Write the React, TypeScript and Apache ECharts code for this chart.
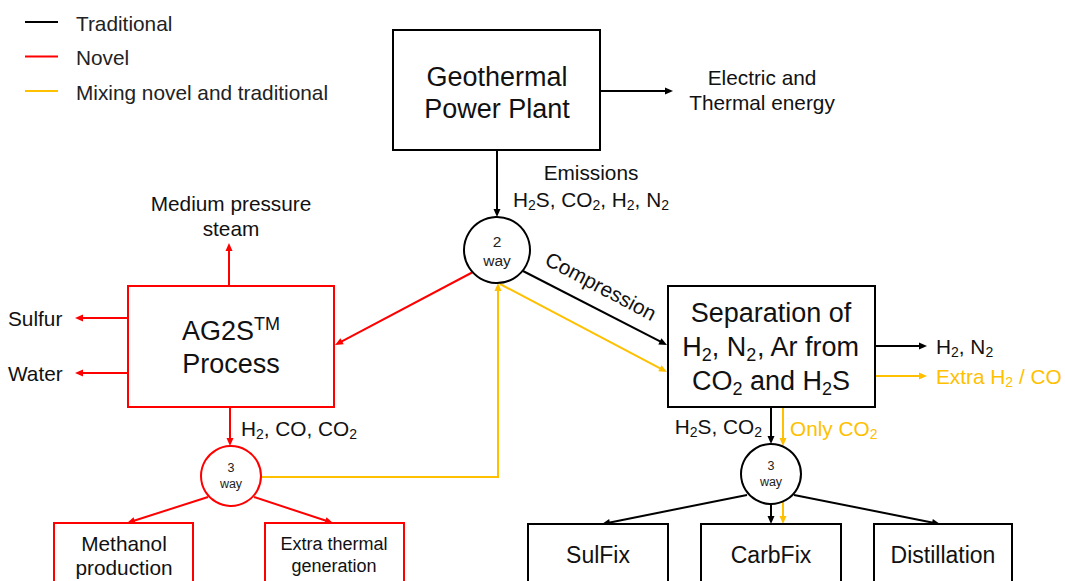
import React, { useEffect, useRef } from "react";
import * as echarts from "echarts";

const FONT = "'Liberation Sans', Arial, Helvetica, sans-serif";
const BLACK = "#000000";
const RED = "#FF0000";
const GOLD = "#FFC000";

// ---------- content (texts) ----------
const legendLabels = ["Traditional", "Novel", "Mixing novel and traditional"];
const legendColors = [BLACK, RED, GOLD];

const plantLines = ["Geothermal", "Power Plant"];
const ag2sLines = ["AG2S^{TM}", "Process"];
const separationLines = ["Separation of", "H_2, N_2, Ar from", "CO_2 and H_2S"];
const methanolLines = ["Methanol", "production"];
const thermalLines = ["Extra thermal", "generation"];
const sinkNames = ["SulFix", "CarbFix", "Distillation"];
const energyLines = ["Electric and", "Thermal energy"];
const emissionLines = ["Emissions", "H_2S, CO_2, H_2, N_2"];
const steamLines = ["Medium pressure", "steam"];
const ag2sOutputs = ["Sulfur", "Water"];
const ag2sGas = "H_2, CO, CO_2";
const sepOutputs = ["H_2, N_2", "Extra H_2 / CO"];
const sepDown = ["H_2S, CO_2", "Only CO_2"];
const compressionLabel = "Compression";
const junctionLabels = [["2", "way"], ["3", "way"], ["3", "way"]];

// ---------- layout ----------
type Box = { x: number; y: number; w: number; h: number; c: string };
const plantBox: Box = { x: 393, y: 30, w: 207, h: 120, c: BLACK };
const ag2sBox: Box = { x: 128, y: 286, w: 206, h: 121, c: RED };
const sepBox: Box = { x: 668, y: 286, w: 207, h: 121, c: BLACK };
const methanolBox: Box = { x: 54, y: 523, w: 139, h: 90, c: RED };
const thermalBox: Box = { x: 265, y: 523, w: 139, h: 90, c: RED };
const sinkBoxes: Box[] = [
  { x: 528, y: 524, w: 140, h: 90, c: BLACK },
  { x: 701, y: 524, w: 140, h: 90, c: BLACK },
  { x: 874, y: 524, w: 138, h: 90, c: BLACK },
];
const junctions = [
  { cx: 497, cy: 250, r: 33, c: BLACK, fs: 15.5, ty: [241, 260] },
  { cx: 231, cy: 476, r: 30, c: RED, fs: 12.5, ty: [468, 484] },
  { cx: 771, cy: 474, r: 30, c: BLACK, fs: 12.5, ty: [466, 482] },
];
// arrows: [color, points...]
const arrows: [string, number[][]][] = [
  [BLACK, [[600, 91], [673, 91]]],
  [BLACK, [[497, 150], [497, 217]]],
  [BLACK, [[523, 271], [667, 345]]],
  [RED, [[473, 272], [335, 345]]],
  [RED, [[229, 286], [229, 243]]],
  [RED, [[128, 318], [75, 318]]],
  [RED, [[128, 373], [75, 373]]],
  [RED, [[230, 407], [230, 446]]],
  [RED, [[208, 497], [127, 523]]],
  [RED, [[254, 497], [333, 523]]],
  [GOLD, [[261, 477], [498, 477], [498, 283]]],
  [GOLD, [[500, 284], [667, 372]]],
  [BLACK, [[875, 346], [927, 346]]],
  [GOLD, [[875, 376], [927, 376]]],
  [BLACK, [[771, 407], [771, 444]]],
  [GOLD, [[783, 407], [783, 446]]],
  [BLACK, [[747, 495], [602, 524]]],
  [BLACK, [[771, 504], [771, 524]]],
  [GOLD, [[783, 502], [783, 524]]],
  [BLACK, [[794, 495], [940, 524]]],
];

function richText(text: string, size: number, color: string) {
  let out = "";
  let buf = "";
  const flush = () => {
    if (buf) {
      out += `{n|${buf}}`;
      buf = "";
    }
  };
  for (let i = 0; i < text.length; i++) {
    const ch = text[i];
    if (ch === "_") {
      flush();
      out += `{s|${text[i + 1]}}`;
      i++;
    } else if (ch === "^") {
      flush();
      const end = text.indexOf("}", i);
      out += `{p|${text.slice(i + 2, end)}}`;
      i = end;
    } else buf += ch;
  }
  flush();
  const lh = Math.round(size * 1.3);
  const small = Math.round(size * 0.66);
  return {
    text: out,
    rich: {
      n: { fontSize: size, fontFamily: FONT, fill: color, lineHeight: lh },
      s: { fontSize: small, fontFamily: FONT, fill: color, lineHeight: lh, padding: [Math.round(size * 0.55), 0, 0, 0] },
      p: { fontSize: small, fontFamily: FONT, fill: color, lineHeight: lh, padding: [0, 0, Math.round(size * 0.55), 0] },
    },
  };
}

function label(t: string, x: number, y: number, size: number, color: string, align = "center", rotation = 0) {
  const r = richText(t, size, color);
  return {
    type: "text",
    x,
    y,
    rotation,
    style: { text: r.text, rich: r.rich, align, verticalAlign: "middle", fill: color, fontSize: size, fontFamily: FONT },
    silent: true,
  };
}

function arrowEls(color: string, pts: number[][]) {
  const n = pts.length;
  const [x1, y1] = pts[n - 2];
  const [x2, y2] = pts[n - 1];
  const dx = x2 - x1, dy = y2 - y1;
  const L = Math.hypot(dx, dy);
  const ux = dx / L, uy = dy / L;
  const hl = 8, hw = 3.5;
  const linePts = pts.slice(0, n - 1).concat([[x2 - ux * hl * 0.7, y2 - uy * hl * 0.7]]);
  return [
    { type: "polyline", shape: { points: linePts }, style: { stroke: color, lineWidth: 2, fill: null } },
    {
      type: "polygon",
      shape: {
        points: [
          [x2, y2],
          [x2 - ux * hl - uy * hw, y2 - uy * hl + ux * hw],
          [x2 - ux * hl + uy * hw, y2 - uy * hl - ux * hw],
        ],
      },
      style: { fill: color, stroke: null },
    },
  ];
}

function boxEl(b: Box) {
  return { type: "rect", shape: { x: b.x, y: b.y, width: b.w, height: b.h }, style: { fill: "#fff", stroke: b.c, lineWidth: 2 } };
}

const M = 20.8; // medium label size
const B = 27; // box title size

function buildElements() {
  const els: any[] = [];
  // legend
  legendLabels.forEach((t, i) => {
    const y = 22 + i * 34.5;
    els.push({ type: "line", shape: { x1: 25, y1: y, x2: 58, y2: y }, style: { stroke: legendColors[i], lineWidth: 2 } });
    els.push(label(t, 76, y + 1, M, "#222", "left"));
  });
  // arrows
  arrows.forEach(([c, p]) => els.push(...arrowEls(c, p)));
  // boxes
  [plantBox, ag2sBox, sepBox, methanolBox, thermalBox, ...sinkBoxes].forEach((b) => els.push(boxEl(b)));
  // junctions
  junctions.forEach((j, i) => {
    els.push({ type: "circle", shape: { cx: j.cx, cy: j.cy, r: j.r }, style: { fill: "#fff", stroke: j.c, lineWidth: 2 } });
    els.push(label(junctionLabels[i][0], j.cx, j.ty[0], j.fs, "#222"));
    els.push(label(junctionLabels[i][1], j.cx, j.ty[1], j.fs, "#222"));
  });
  // box texts
  plantLines.forEach((t, i) => els.push(label(t, 497, 77 + i * 32, B, "#111")));
  ag2sLines.forEach((t, i) => els.push(label(t, 231, 331 + i * 33, B, "#111")));
  separationLines.forEach((t, i) => els.push(label(t, 771, 313 + i * 34, B, "#111")));
  methanolLines.forEach((t, i) => els.push(label(t, 124, 543 + i * 24, M, "#111")));
  thermalLines.forEach((t, i) => els.push(label(t, 334, 544 + i * 22, 18, "#111")));
  sinkNames.forEach((t, i) => els.push(label(t, sinkBoxes[i].x + sinkBoxes[i].w / 2, 555, 23, "#111")));
  // flow labels
  energyLines.forEach((t, i) => els.push(label(t, 762, 77 + i * 25, M, "#111")));
  emissionLines.forEach((t, i) => els.push(label(t, 591, 172 + i * 27, M, "#111")));
  steamLines.forEach((t, i) => els.push(label(t, 231, 203 + i * 25, M, "#111")));
  ag2sOutputs.forEach((t, i) => els.push(label(t, 8, 318 + i * 55, M, "#111", "left")));
  els.push(label(ag2sGas, 241, 428, M, "#111", "left"));
  els.push(label(sepOutputs[0], 936, 346, M, "#111", "left"));
  els.push(label(sepOutputs[1], 936, 376, M, GOLD, "left"));
  els.push(label(sepDown[0], 762, 426, M, "#111", "right"));
  els.push(label(sepDown[1], 790, 428, M, GOLD, "left"));
  els.push(label(compressionLabel, 601, 286, M, "#111", "center", (-28 * Math.PI) / 180));
  return els;
}

export default function App() {
  const ref = useRef<HTMLDivElement>(null);
  useEffect(() => {
    document.body.style.margin = "0";
    const chart = echarts.init(ref.current!, undefined, { renderer: "svg" });
    chart.setOption({
      animation: false,
      backgroundColor: "#ffffff",
      graphic: { elements: buildElements() },
    });
    return () => chart.dispose();
  }, []);
  return <div ref={ref} style={{ width: 1065, height: 581 }} />;
}
